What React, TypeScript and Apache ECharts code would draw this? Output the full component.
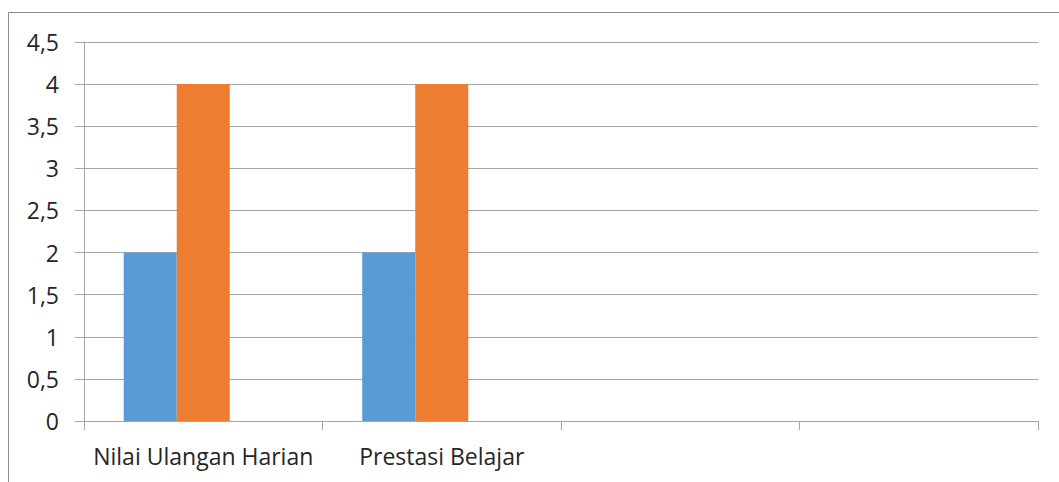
import React, { useEffect, useRef } from "react";
import * as echarts from "echarts";

// Category slots along the x axis (the last two are empty slots)
const categories: string[] = ["Nilai Ulangan Harian", "Prestasi Belajar", "", ""];

// Series values per category
const series1: (number | null)[] = [2, 2, null, null];
const series2: (number | null)[] = [4, 4, null, null];
const series3: (number | null)[] = [null, null, null, null];

const seriesNames: string[] = ["Series 1", "Series 2", "Series 3"];
const seriesColors: string[] = ["#5B9BD5", "#ED7D31", "#A5A5A5"];

const FONT = "'Open Sans', 'Noto Sans', sans-serif";
const GRID_COLOR = "#A6A6A6";
const TEXT_COLOR = "#262626";

export default function App() {
  const ref = useRef<HTMLDivElement>(null);

  useEffect(() => {
    if (!ref.current) return;
    const chart = echarts.init(ref.current, undefined, { renderer: "svg" });
    const data = [series1, series2, series3];
    chart.setOption({
      animation: false,
      backgroundColor: "#ffffff",
      graphic: [
        {
          type: "rect",
          shape: { x: 8.5, y: 12.5, width: 1200, height: 600 },
          style: { fill: "none", stroke: "#8C8C8C", lineWidth: 1 },
          silent: true,
        },
      ],
      grid: { left: 84, right: 21, top: 42, bottom: 61 },
      xAxis: {
        type: "category",
        data: categories,
        boundaryGap: true,
        axisLine: { show: true, lineStyle: { color: GRID_COLOR, width: 1 } },
        axisTick: { show: true, length: 9, alignWithLabel: false, lineStyle: { color: GRID_COLOR } },
        axisLabel: { color: TEXT_COLOR, fontSize: 23, fontFamily: FONT, margin: 23, interval: 0 },
        splitLine: { show: false },
      },
      yAxis: {
        type: "value",
        min: 0,
        max: 4.5,
        interval: 0.5,
        axisLine: { show: true, lineStyle: { color: GRID_COLOR, width: 1 } },
        axisTick: { show: true, length: 9, lineStyle: { color: GRID_COLOR } },
        axisLabel: {
          color: TEXT_COLOR,
          fontSize: 23,
          fontFamily: FONT,
          margin: 25,
          formatter: (v: number) => String(v).replace(".", ","),
        },
        splitLine: { show: true, lineStyle: { color: GRID_COLOR, width: 1 } },
      },
      series: data.map((d, i) => ({
        name: seriesNames[i],
        type: "bar",
        data: d,
        barGap: "0%",
        barCategoryGap: "33.3%",
        itemStyle: { color: seriesColors[i] },
      })),
    });
    return () => chart.dispose();
  }, []);

  return (
    <div
      ref={ref}
      style={{ position: "fixed", left: 0, top: 0, width: 1059, height: 482 }}
    />
  );
}
